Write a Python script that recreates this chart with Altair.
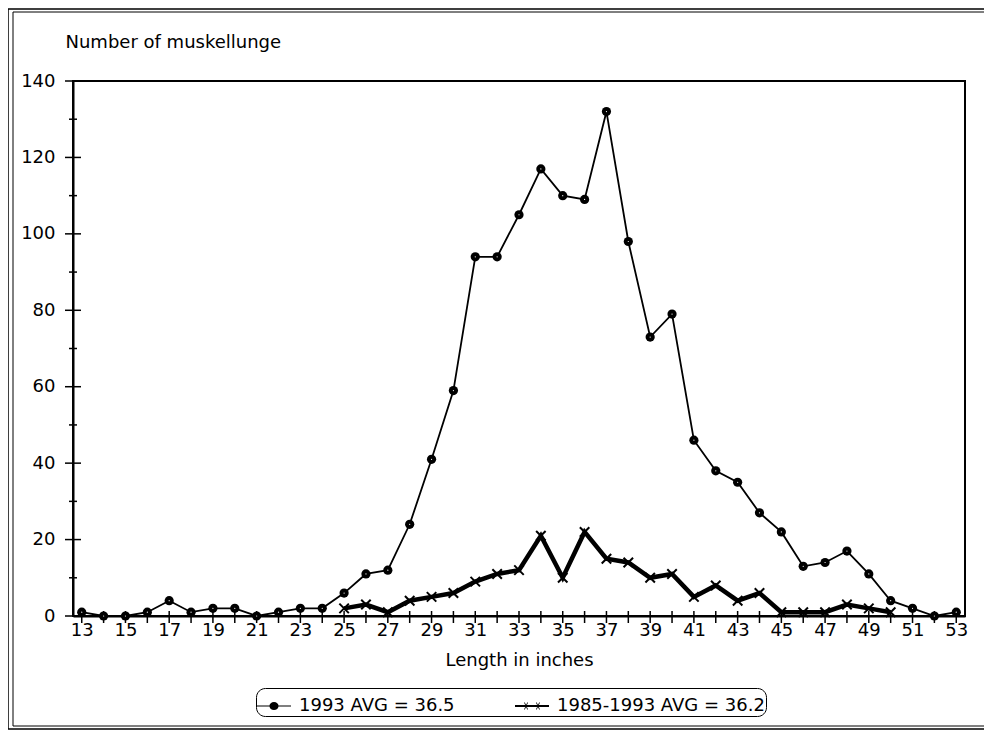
import altair as alt
import pandas as pd

# ---- data ----
lengths_1993 = list(range(13, 54))
counts_1993 = [1, 0, 0, 1, 4, 1, 2, 2, 0, 1, 2, 2, 6, 11, 12, 24, 41, 59, 94, 94,
               105, 117, 110, 109, 132, 98, 73, 79, 46, 38, 35, 27, 22, 13, 14, 17,
               11, 4, 2, 0, 1]
lengths_avg = list(range(25, 51))
counts_avg = [2, 3, 1, 4, 5, 6, 9, 11, 12, 21, 10, 22, 15, 14, 10, 11, 5, 8, 4, 6,
              1, 1, 1, 3, 2, 1]
series_names = ["1993 AVG = 36.5", "1985-1993 AVG = 36.2"]
y_label_values = [0, 20, 40, 60, 80, 100, 120, 140]
y_minor_values = [10, 30, 50, 70, 90, 110, 130]
x_label_values = list(range(13, 54, 2))
x_tick_values = list(range(13, 54))

df1 = pd.DataFrame({"len": lengths_1993, "n": counts_1993})
df2 = pd.DataFrame({"len": lengths_avg, "n": counts_avg})
legend_df = pd.DataFrame({"series": series_names})
ymaj_df = pd.DataFrame({"v": y_label_values})
ymin_df = pd.DataFrame({"v": y_minor_values})
xt_df = pd.DataFrame({"v": x_tick_values})
one = pd.DataFrame({"a": [0]})

FONT = "DejaVu Sans"
W, H = 892, 535

xscale = alt.Scale(domain=[12.6, 53.4], nice=False, zero=False)
yscale = alt.Scale(domain=[0, 140], nice=False)

xaxis = alt.Axis(values=x_label_values, ticks=False, tickSize=0, grid=False,
                 domainColor="black", domainWidth=2, labelFont=FONT, labelFontSize=18,
                 labelColor="black", labelPadding=5, labelFlush=False,
                 title="Length in inches", titleFont=FONT, titleFontSize=18,
                 titleFontWeight="normal", titleColor="black",
                 titleBaseline="alphabetic", titleY=49)
yaxis = alt.Axis(values=y_label_values, ticks=False, tickSize=0, grid=False,
                 domainColor="black", domainWidth=2, labelFont=FONT, labelFontSize=18,
                 labelColor="black", labelPadding=18, labelFlush=False,
                 title="Number of muskellunge", titleFont=FONT, titleFontSize=18,
                 titleFontWeight="normal", titleColor="black", titleAngle=0,
                 titleAlign="left", titleBaseline="alphabetic", titleX=-8, titleY=-34)

X = alt.X("len:Q", scale=xscale, axis=xaxis)
Y = alt.Y("n:Q", scale=yscale, axis=yaxis)

line1 = alt.Chart(df1).mark_line(color="black", strokeWidth=1.8).encode(x=X, y=Y)
pts1 = alt.Chart(df1).mark_point(filled=True, shape="circle", size=85, color="black",
                                 opacity=1).encode(x=X, y=Y)
dots1 = alt.Chart(df1).mark_point(filled=True, shape="circle", size=1.5, color="white",
                                  opacity=1).encode(x=X, y=Y)

line2 = alt.Chart(df2).mark_line(color="black", strokeWidth=4.5).encode(x=X, y=Y)
XPATH = "M-1,-1L1,1M-1,1L1,-1"
pts2 = alt.Chart(df2).mark_point(filled=False, shape=XPATH, size=90, color="black",
                                 strokeWidth=2, opacity=1).encode(x=X, y=Y)

# axis tick marks crossing the axis lines
ymaj = alt.Chart(ymaj_df).mark_rule(color="black", strokeWidth=1.5).encode(
    y=alt.Y("v:Q", scale=yscale), x=alt.value(-8), x2=alt.value(8))
ymin = alt.Chart(ymin_df).mark_rule(color="black", strokeWidth=1.5).encode(
    y=alt.Y("v:Q", scale=yscale), x=alt.value(-4), x2=alt.value(4))
xt = alt.Chart(xt_df).mark_rule(color="black", strokeWidth=1.5).encode(
    x=alt.X("v:Q", scale=xscale), y=alt.value(H - 5), y2=alt.value(H + 7))

# legend symbols (filled paths: line + marker)
SYM1 = ("M-1,-0.035H1V0.035H-1Z"
        "M-0.27,0A0.27,0.24 0 1,1 0.27,0A0.27,0.24 0 1,1 -0.27,0Z")
SYM2 = ("M-1,-0.065H1V0.065H-1Z"
        "M-0.47,-0.2L-0.42,-0.2L-0.23,0.2L-0.28,0.2Z"
        "M-0.28,-0.2L-0.23,-0.2L-0.42,0.2L-0.47,0.2Z"
        "M0.23,-0.2L0.28,-0.2L0.47,0.2L0.42,0.2Z"
        "M0.42,-0.2L0.47,-0.2L0.28,0.2L0.23,0.2Z")
legend_layer = alt.Chart(legend_df).mark_point(filled=True, color="black", opacity=1).encode(
    shape=alt.Shape("series:N",
                    scale=alt.Scale(domain=series_names, range=[SYM1, SYM2]),
                    legend=alt.Legend(title=None, orient="none", legendX=183, legendY=607,
                                      direction="horizontal", columns=2,
                                      columnPadding=60, labelOffset=8,
                                      labelFont=FONT, labelFontSize=18,
                                      labelColor="black", labelLimit=400,
                                      symbolSize=1156, symbolStrokeWidth=0,
                                      symbolFillColor="black", symbolOpacity=1,
                                      strokeColor="black", cornerRadius=9,
                                      padding=1, fillColor="white"))
).transform_filter("false")

# outer frame of the figure
frame_outer = alt.Chart(one).mark_rect(fillOpacity=0, stroke="black", strokeWidth=1.5).encode(
    x=alt.value(-65), x2=alt.value(940), y=alt.value(-72), y2=alt.value(648))
frame_inner = alt.Chart(one).mark_rect(fillOpacity=0, stroke="black", strokeWidth=1).encode(
    x=alt.value(-60), x2=alt.value(940), y=alt.value(-69), y2=alt.value(645))

chart = alt.layer(
    frame_outer, frame_inner, ymaj, ymin, xt, line1, line2, pts2, pts1, dots1, legend_layer
).properties(
    width=W, height=H,
    padding={"left": 65, "top": 73, "right": 19, "bottom": 114},
    autosize=alt.AutoSizeParams(type="none"),
    background="white",
).configure(
    font=FONT
).configure_view(
    stroke="black", strokeWidth=2
)

chart.save("out.html", embed_options={"renderer": "svg", "actions": False})
